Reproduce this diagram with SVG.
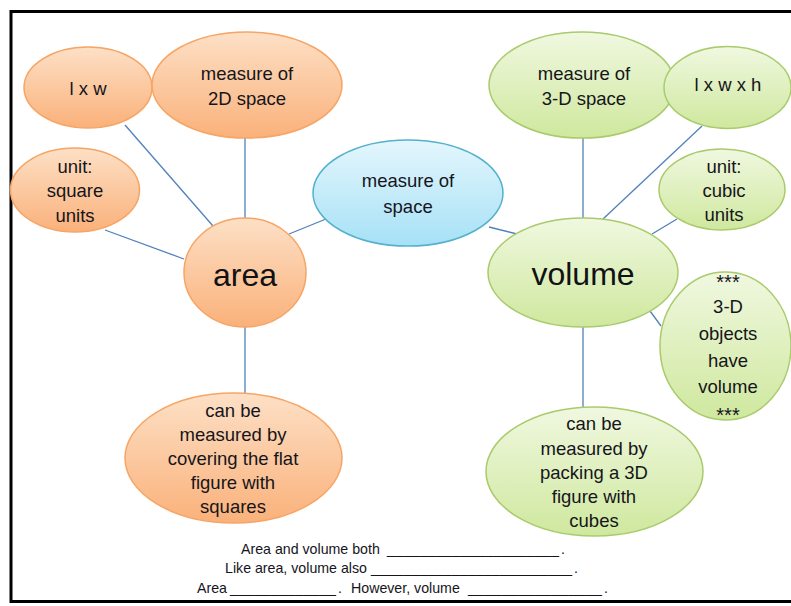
<svg xmlns="http://www.w3.org/2000/svg" width="791" height="606" viewBox="0 0 791 606">
  <defs>
    <linearGradient id="gOrange" x1="0" y1="0" x2="0" y2="1">
      <stop offset="0" stop-color="#fde0c6"/>
      <stop offset="1" stop-color="#fab17a"/>
    </linearGradient>
    <linearGradient id="gGreen" x1="0" y1="0" x2="0" y2="1">
      <stop offset="0" stop-color="#f0f8e0"/>
      <stop offset="1" stop-color="#cfe89e"/>
    </linearGradient>
    <linearGradient id="gBlue" x1="0" y1="0" x2="0" y2="1">
      <stop offset="0" stop-color="#e4f6fd"/>
      <stop offset="1" stop-color="#a6e1f6"/>
    </linearGradient>
  </defs>
  <style>
    .orange { fill: url(#gOrange); stroke: #f6a565; stroke-width: 1.5; }
    .green { fill: url(#gGreen); stroke: #a9cb6c; stroke-width: 1.5; }
    .blue { fill: url(#gBlue); stroke: #55b1cd; stroke-width: 1.5; }
    .lbl { font-family: "Liberation Sans", Arial, sans-serif; font-size: 18.5px; fill: #15151b; text-anchor: middle; }
    .big { font-family: "Liberation Sans", Arial, sans-serif; font-size: 32px; fill: #111116; text-anchor: middle; }
    .note { font-family: "Liberation Sans", Arial, sans-serif; font-size: 14.2px; fill: #15151b; }
    .conn { stroke: #4f81bd; stroke-width: 1.3; fill: none; }
  </style>

  <rect width="791" height="606" fill="#ffffff"/>
  <!-- page frame -->
  <rect x="11" y="11.5" width="792" height="590" fill="none" stroke="#000" stroke-width="3"/>

  <!-- connectors -->
  <g id="connectors">
    <line class="conn" x1="125" y1="125" x2="213" y2="226"/>
    <line class="conn" x1="245" y1="137" x2="245" y2="219"/>
    <line class="conn" x1="105" y1="230" x2="184" y2="259"/>
    <line class="conn" x1="289" y1="234" x2="326" y2="219"/>
    <line class="conn" x1="245" y1="327" x2="245" y2="394"/>
    <line class="conn" x1="489" y1="227" x2="517" y2="234"/>
    <line class="conn" x1="583" y1="137" x2="583" y2="219"/>
    <line class="conn" x1="702" y1="126" x2="603" y2="219"/>
    <line class="conn" x1="677" y1="219" x2="652" y2="234"/>
    <line class="conn" x1="650" y1="311" x2="661" y2="326"/>
    <line class="conn" x1="583" y1="327" x2="583" y2="408"/>
  </g>

  <!-- area side -->
  <g id="node-lxw">
    <ellipse class="orange" cx="88" cy="87.5" rx="64" ry="40.5"/>
    <text class="lbl" x="88" y="95">l x w</text>
  </g>
  <g id="node-2d-space">
    <ellipse class="orange" cx="247" cy="85" rx="95" ry="53"/>
    <text class="lbl" x="247" y="80">measure of</text>
    <text class="lbl" x="247" y="105">2D space</text>
  </g>
  <g id="node-square-units">
    <ellipse class="orange" cx="75" cy="190" rx="64.5" ry="42"/>
    <text class="lbl" x="75" y="173">unit:</text>
    <text class="lbl" x="75" y="197">square</text>
    <text class="lbl" x="75" y="222">units</text>
  </g>
  <g id="node-area">
    <ellipse class="orange" cx="245" cy="272.5" rx="61" ry="54.5"/>
    <text class="big" x="245" y="286">area</text>
  </g>
  <g id="node-covering">
    <ellipse class="orange" cx="233.5" cy="458" rx="108.5" ry="65"/>
    <text class="lbl" x="233" y="417">can be</text>
    <text class="lbl" x="233" y="441">measured by</text>
    <text class="lbl" x="233" y="465">covering the flat</text>
    <text class="lbl" x="233" y="489">figure with</text>
    <text class="lbl" x="233" y="513">squares</text>
  </g>

  <!-- centre -->
  <g id="node-space">
    <ellipse class="blue" cx="408" cy="193" rx="95" ry="53"/>
    <text class="lbl" x="408" y="187">measure of</text>
    <text class="lbl" x="408" y="213">space</text>
  </g>

  <!-- volume side -->
  <g id="node-3d-space">
    <ellipse class="green" cx="582" cy="85" rx="93" ry="53"/>
    <text class="lbl" x="584" y="80">measure of</text>
    <text class="lbl" x="584" y="105">3-D space</text>
  </g>
  <g id="node-lxwxh">
    <ellipse class="green" cx="727.5" cy="87.5" rx="63.5" ry="41"/>
    <text class="lbl" x="728" y="91">l x w x h</text>
  </g>
  <g id="node-cubic-units">
    <ellipse class="green" cx="722" cy="189.5" rx="63" ry="40.5"/>
    <text class="lbl" x="724" y="173">unit:</text>
    <text class="lbl" x="724" y="197">cubic</text>
    <text class="lbl" x="724" y="221">units</text>
  </g>
  <g id="node-volume">
    <ellipse class="green" cx="583" cy="272.5" rx="95" ry="54.5"/>
    <text class="big" x="583" y="285">volume</text>
  </g>
  <g id="node-3d-objects">
    <ellipse class="green" cx="725.5" cy="346" rx="65.5" ry="74"/>
    <text class="lbl" x="728" y="289" style="font-size:20px">***</text>
    <text class="lbl" x="728" y="313">3-D</text>
    <text class="lbl" x="728" y="340">objects</text>
    <text class="lbl" x="728" y="367">have</text>
    <text class="lbl" x="728" y="393">volume</text>
    <text class="lbl" x="728" y="422" style="font-size:20px">***</text>
  </g>
  <g id="node-packing">
    <ellipse class="green" cx="594.5" cy="471.5" rx="108.5" ry="64.5"/>
    <text class="lbl" x="594" y="430">can be</text>
    <text class="lbl" x="594" y="455">measured by</text>
    <text class="lbl" x="594" y="479">packing a 3D</text>
    <text class="lbl" x="594" y="503">figure with</text>
    <text class="lbl" x="594" y="527">cubes</text>
  </g>

  <!-- fill-in sentences -->
  <g id="sentences">
    <text class="note" x="241" y="554">Area and volume both</text>
    <text class="note" x="387" y="554" textLength="172" lengthAdjust="spacingAndGlyphs">_____________________</text>
    <text class="note" x="561" y="554">.</text>

    <text class="note" x="225" y="573">Like area, volume also</text>
    <text class="note" x="371" y="573" textLength="201" lengthAdjust="spacingAndGlyphs">_________________________</text>
    <text class="note" x="574" y="573">.</text>

    <text class="note" x="197" y="593">Area</text>
    <text class="note" x="230" y="593" textLength="106" lengthAdjust="spacingAndGlyphs">_____________</text>
    <text class="note" x="338" y="593">.</text>
    <text class="note" x="351" y="593">However, volume</text>
    <text class="note" x="468" y="593" textLength="134" lengthAdjust="spacingAndGlyphs">________________</text>
    <text class="note" x="604" y="593">.</text>
  </g>
</svg>
